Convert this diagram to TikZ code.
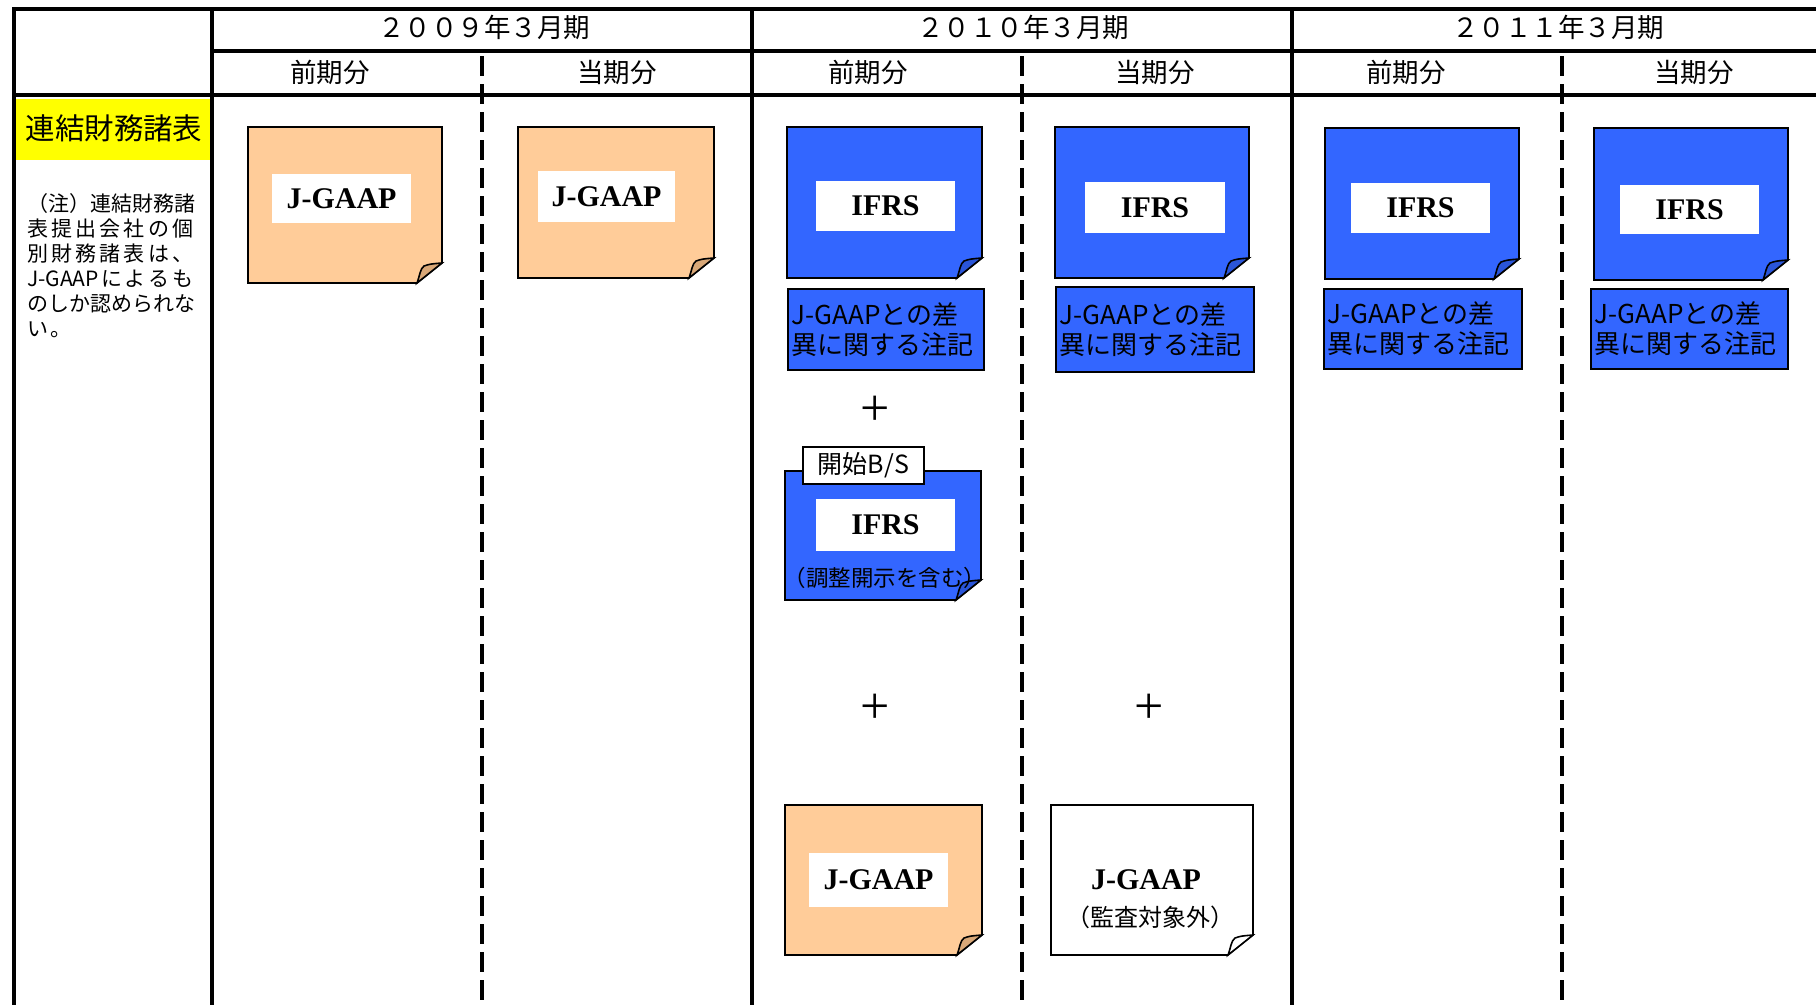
\documentclass[tikz,border=0pt]{standalone}
\usepackage{fontspec}
\setmainfont{Liberation Serif}
\newfontfamily\jp{Noto Sans CJK JP}
\newfontfamily\tms{Liberation Serif}
\definecolor{peach}{HTML}{FFCC99}
\definecolor{peachdk}{HTML}{D9A878}
\definecolor{ifblue}{HTML}{3366FF}
\definecolor{ifbluedk}{HTML}{2A55D8}
\definecolor{hiyellow}{HTML}{FFFF00}
\makeatletter
\newcommand{\spreadline}[2]{\makebox[#1][s]{\@tfor\@ch:=#2\do{\@ch\hfil}\unskip}}
\makeatother
% sticky note: x0,y0,x1,y1,fill,flapfill
\newcommand{\sticky}[6]{%
  \draw[notebd, fill=#5] (#1,#2) -- (#3,#2) -- (#3,#4-20) -- (#3-25,#4) -- (#1,#4) -- cycle;
  \draw[notebd, fill=#6] (#3-25,#4) .. controls (#3-22,#4-8) and (#3-22,#4-14) .. (#3-18,#4-17)
     .. controls (#3-12,#4-19) .. (#3,#4-20) -- cycle;
}
\begin{document}
\begin{tikzpicture}[x=1pt,y=-1pt,
  solidln/.style={line width=4.5pt},
  dashln/.style={line width=4.3pt, dash pattern=on 20pt off 8pt},
  notebd/.style={draw=black, line width=1.6pt, line join=miter},
  lbl/.style={fill=white, inner sep=0pt, font=\tms\bfseries\fontsize{30}{30}\selectfont},
  hdr/.style={font=\jp\fontsize{26.5}{26.5}\selectfont, inner sep=0pt},
  memo/.style={draw=black, line width=1.6pt, fill=ifblue, align=left, anchor=north west,
     inner xsep=4pt, inner ysep=0pt, font=\jp\fontsize{26}{30}\selectfont},
  plussign/.style={font=\fontsize{52}{52}\selectfont, inner sep=0pt}]
\useasboundingbox (0,0) rectangle (1816,1005);

% ---------- grid ----------
\fill[hiyellow] (16,99) rectangle (210,160);
\draw[solidln] (14,9) -- (1816,9);
\draw[solidln] (212,51) -- (1816,51);
\draw[solidln] (14,95) -- (1816,95);
\draw[solidln] (14,7) -- (14,1005);
\draw[solidln] (212,7) -- (212,1005);
\draw[solidln] (752,7) -- (752,1005);
\draw[solidln] (1292,7) -- (1292,1005);
\draw[dashln] (482,56) -- (482,1005);
\draw[dashln] (1022,56) -- (1022,1005);
\draw[dashln] (1562,56) -- (1562,1005);

% ---------- headers ----------
\node[hdr] (y1) at (484,27) {２００９年３月期};
\node[hdr] (y2) at (1023,27) {２０１０年３月期};
\node[hdr] (y3) at (1558,27) {２０１１年３月期};
\node[hdr] (h1) at (330,72) {前期分};
\node[hdr] (h2) at (617,72) {当期分};
\node[hdr] (h3) at (868,72) {前期分};
\node[hdr] (h4) at (1155,72) {当期分};
\node[hdr] (h5) at (1406,72) {前期分};
\node[hdr] (h6) at (1694,72) {当期分};

% ---------- left column ----------
\node[font=\jp\fontsize{29.5}{29.5}\selectfont, inner sep=0pt] (ttl) at (114,128) {連結財務諸表};
\node[font=\jp\fontsize{21}{25}\selectfont, inner sep=0pt, align=left, anchor=north west] (nt) at (27,193)
 {\spreadline{166pt}{（注）連結財務諸}\\
  \spreadline{166pt}{表提出会社の個}\\
  \spreadline{166pt}{別財務諸表は、}\\
  \spreadline{166pt}{{J-GAAP}によるも}\\
  \spreadline{166pt}{のしか認められな}\\
  い\hspace{2pt}。};

% ---------- 2009 ----------
\sticky{248}{127}{442}{283}{peach}{peachdk}
\node[lbl, minimum width=139pt, minimum height=49pt] (a1) at (341.5,198.5) {J-GAAP};
\sticky{518}{127}{714}{278}{peach}{peachdk}
\node[lbl, minimum width=137pt, minimum height=51pt] (a2) at (606.5,196.5) {J-GAAP};

% ---------- 2010 previous ----------
\sticky{787}{127}{982}{278}{ifblue}{ifbluedk}
\node[lbl, minimum width=139pt, minimum height=50pt] (b1) at (885.5,206) {IFRS};
\node[memo, minimum width=196pt, minimum height=81pt, text width=188pt] (m1) at (787,288)
  {J-GAAPとの差\\異に関する注記};
\node[plussign] (p1) at (875,411) {+};
\sticky{785}{471}{981}{600}{ifblue}{ifbluedk}
\node[draw=black, line width=1.6pt, fill=white, minimum width=121pt, minimum height=37pt, inner sep=0pt,
  font=\jp\fontsize{25}{25}\selectfont] (tab) at (863.5,465.5) {開始B/S};
\node[lbl, minimum width=139pt, minimum height=52pt] (b2) at (885.5,525) {IFRS};
\node[font=\jp\fontsize{22.5}{22.5}\selectfont, inner sep=0pt] (adj) at (885,578) {（調整開示を含む）};
\node[plussign] (p2) at (875,709) {+};
\sticky{785}{805}{982}{955}{peach}{peachdk}
\node[lbl, minimum width=139pt, minimum height=54pt] (a3) at (878.5,880) {J-GAAP};

% ---------- 2010 current ----------
\sticky{1055}{127}{1249}{278}{ifblue}{ifbluedk}
\node[lbl, minimum width=140pt, minimum height=51pt] (b3) at (1155,207.5) {IFRS};
\node[memo, minimum width=198pt, minimum height=85pt, text width=190pt] (m2) at (1055,286)
  {J-GAAPとの差\\異に関する注記};
\node[plussign] (p3) at (1149,709) {+};
\sticky{1051}{805}{1253}{955}{white}{white}
\node[font=\tms\bfseries\fontsize{30}{30}\selectfont, inner sep=0pt] (a4) at (1146,880) {J-GAAP};
\node[font=\jp\fontsize{24}{24}\selectfont, inner sep=0pt] (ex) at (1150,917) {（監査対象外）};

% ---------- 2011 ----------
\sticky{1325}{128}{1519}{279}{ifblue}{ifbluedk}
\node[lbl, minimum width=139pt, minimum height=50pt] (b4) at (1420.5,208) {IFRS};
\node[memo, minimum width=198pt, minimum height=80pt, text width=190pt] (m3) at (1323,288)
  {J-GAAPとの差\\異に関する注記};
\sticky{1594}{128}{1788}{280}{ifblue}{ifbluedk}
\node[lbl, minimum width=139pt, minimum height=49pt] (b5) at (1689.5,209.5) {IFRS};
\node[memo, minimum width=197pt, minimum height=80pt, text width=189pt] (m4) at (1590,288)
  {J-GAAPとの差\\異に関する注記};
\end{tikzpicture}
\end{document}
